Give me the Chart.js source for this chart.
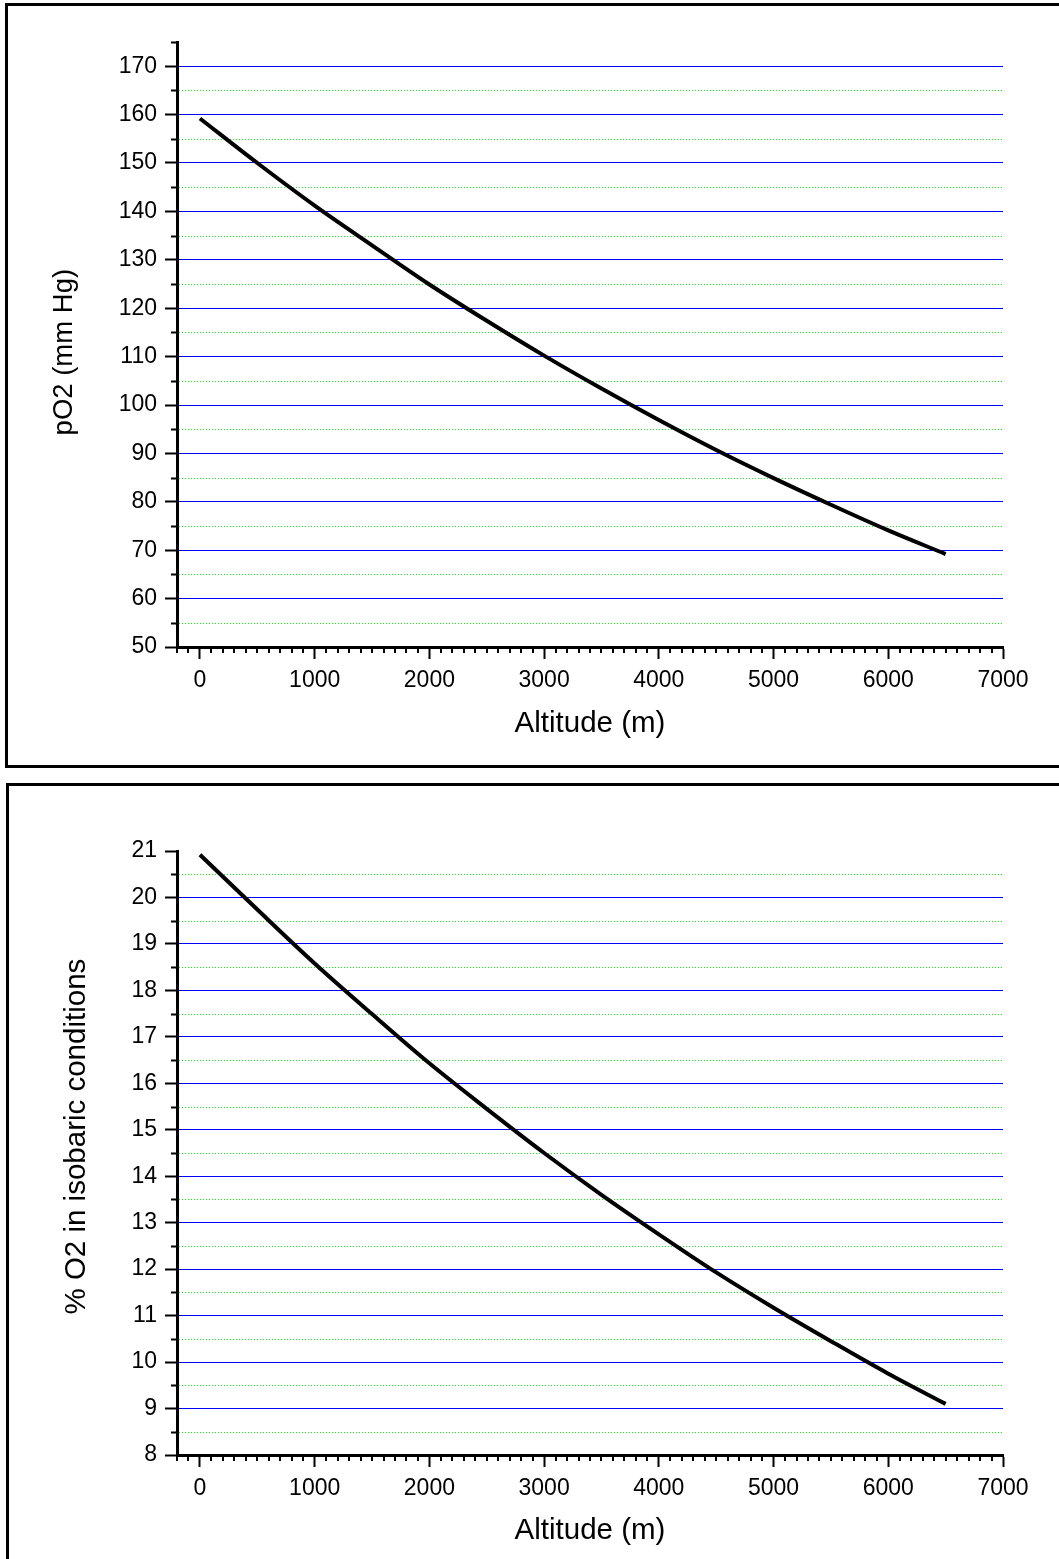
<!DOCTYPE html>
<html>
<head>
<meta charset="utf-8">
<script src="https://cdn.jsdelivr.net/npm/chart.js@4.4.1/dist/chart.umd.min.js"></script>
<style>
  html, body { margin: 0; padding: 0; background: #fff; }
  body { width: 1059px; height: 1559px; position: relative; overflow: hidden; }
  .panel { position: absolute; border: 3px solid #000; box-sizing: border-box; }
  #panel-top { left: 5px; top: 3px; width: 1080px; height: 765px; }
  #panel-bottom { left: 6px; top: 783px; width: 1080px; height: 800px; }
  canvas { position: absolute; left: 0; }
  #chart-top { top: 0; }
  #chart-bottom { top: 780px; }
</style>
</head>
<body>
<div class="panel" id="panel-top"></div>
<div class="panel" id="panel-bottom"></div>
<canvas id="chart-top" width="1059" height="770"></canvas>
<canvas id="chart-bottom" width="1059" height="779"></canvas>
<script>
// altitude (m) and the values
const altitudes = [0, 500, 1000, 1500, 2000, 2500, 3000, 3500, 4000, 4500, 5000, 5500, 6000, 6500];
const pO2Values = [159.2, 150.0, 141.2, 133.0, 124.9, 117.4, 110.2, 103.4, 96.9, 90.7, 84.9, 79.4, 74.1, 69.2];
const pctO2Values = [20.92, 19.74, 18.58, 17.49, 16.43, 15.45, 14.50, 13.60, 12.75, 11.93, 11.17, 10.45, 9.75, 9.10];

// tick labels
const xTicks = [0, 1000, 2000, 3000, 4000, 5000, 6000, 7000];
const pO2Ticks = [50, 60, 70, 80, 90, 100, 110, 120, 130, 140, 150, 160, 170];
const pctTicks = [8, 9, 10, 11, 12, 13, 14, 15, 16, 17, 18, 19, 20, 21];

const FONT = "'Liberation Sans', Arial, Helvetica, sans-serif";

// minor ticks between the labelled ones
function minorValues(min, max, step, majorStep) {
  const out = [];
  for (let v = min; v <= max + 1e-9; v += step) {
    const r = Math.round(v * 1000) / 1000;
    if (Math.abs(r / majorStep - Math.round(r / majorStep)) > 1e-6) out.push(r);
  }
  return out;
}

const minorMarks = {
  id: "minorMarks",
  beforeDatasetsDraw(chart, args, opts) {
    const { ctx, chartArea, scales } = chart;
    const x = scales.x;
    const y = scales.y;
    ctx.save();
    // dotted green grid on the minor y values
    ctx.strokeStyle = "#00ff00";
    ctx.lineWidth = 1;
    ctx.setLineDash([1, 2]);
    opts.yMinor.forEach((v) => {
      if (v >= y.max) return;
      const py = Math.round(y.getPixelForValue(v)) + 0.5;
      ctx.beginPath();
      ctx.moveTo(chartArea.left + 2, py);
      ctx.lineTo(chartArea.right, py);
      ctx.stroke();
    });
    ctx.setLineDash([]);
    // short minor tick marks
    ctx.strokeStyle = "#000";
    ctx.lineWidth = 2;
    opts.yMinor.forEach((v) => {
      const py = Math.round(y.getPixelForValue(v)) + 0.5;
      ctx.beginPath();
      ctx.moveTo(chartArea.left, py);
      ctx.lineTo(chartArea.left - 6, py);
      ctx.stroke();
    });
    opts.xMinor.forEach((v) => {
      const px = Math.round(x.getPixelForValue(v));
      ctx.beginPath();
      ctx.moveTo(px, chartArea.bottom);
      ctx.lineTo(px, chartArea.bottom + 6);
      ctx.stroke();
    });
    ctx.restore();
  },
};

function makeChart(canvasId, values, cfg) {
  return new Chart(document.getElementById(canvasId), {
    type: "line",
    data: {
      datasets: [
        {
          data: altitudes.map((a, i) => ({ x: a, y: values[i] })),
          borderColor: "#000",
          borderWidth: 4,
          pointRadius: 0,
          cubicInterpolationMode: "monotone",
          fill: false,
        },
      ],
    },
    options: {
      responsive: false,
      animation: false,
      devicePixelRatio: 1,
      layout: { padding: { left: 0, right: 56, top: cfg.padTop, bottom: cfg.padBottom } },
      plugins: {
        legend: { display: false },
        tooltip: { enabled: false },
        minorMarks: {
          xMinor: minorValues(-200, 7000, 100, 1000),
          yMinor: cfg.yMinor,
        },
      },
      scales: {
        x: {
          type: "linear",
          min: -200,
          max: 7000,
          afterFit: (scale) => { scale.height = 100; },
          afterBuildTicks: (scale) => { scale.ticks = xTicks.map((v) => ({ value: v })); },
          border: { display: true, color: "#000", width: 3 },
          grid: { drawOnChartArea: false, drawTicks: true, tickLength: 12, tickColor: "#000", tickWidth: 2 },
          ticks: { color: "#000", padding: 8, maxRotation: 0, font: { family: FONT, size: 23 }, callback: (v) => String(v) },
          title: { display: true, text: "Altitude (m)", color: "#000", font: { family: FONT, size: 29.5 }, padding: { top: 0, bottom: cfg.xTitlePad } },
        },
        y: {
          type: "linear",
          min: cfg.yMin,
          max: cfg.yMax,
          afterFit: (scale) => { scale.width = 177; },
          afterBuildTicks: (scale) => { scale.ticks = cfg.yTicks.map((v) => ({ value: v })); },
          border: { display: true, color: "#000", width: 3 },
          grid: {
            drawOnChartArea: true,
            drawTicks: true,
            tickLength: 12,
            tickColor: "#000",
            tickWidth: 2,
            lineWidth: 1,
            color: (c) => (c.tick && (c.tick.value === cfg.yMin || c.tick.value === cfg.yMax) ? "rgba(0,0,0,0)" : "#0000ff"),
          },
          ticks: { color: "#000", padding: 8, font: { family: FONT, size: 23 }, callback: (v) => String(v) },
          title: { display: true, text: cfg.yTitle, color: "#000", font: { family: FONT, size: cfg.yTitleSize }, padding: { top: cfg.yTitlePad, bottom: 0 } },
        },
      },
    },
    plugins: [minorMarks],
  });
}

makeChart("chart-top", pO2Values, {
  yMin: 50,
  yMax: 175,
  yTicks: pO2Ticks,
  yMinor: minorValues(55, 175, 5, 10),
  yTitle: "pO2 (mm Hg)  ",
  yTitleSize: 27.5,
  padTop: 42,
  padBottom: 23,
  xTitlePad: 5,
  yTitlePad: 48,
});

makeChart("chart-bottom", pctO2Values, {
  yMin: 8,
  yMax: 21,
  yTicks: pctTicks,
  yMinor: minorValues(8.5, 20.5, 0.5, 1),
  yTitle: "    % O2 in isobaric conditions",
  yTitleSize: 29.5,
  padTop: 71,
  padBottom: 4,
  xTitlePad: 6,
  yTitlePad: 59,
});
</script>
</body>
</html>
